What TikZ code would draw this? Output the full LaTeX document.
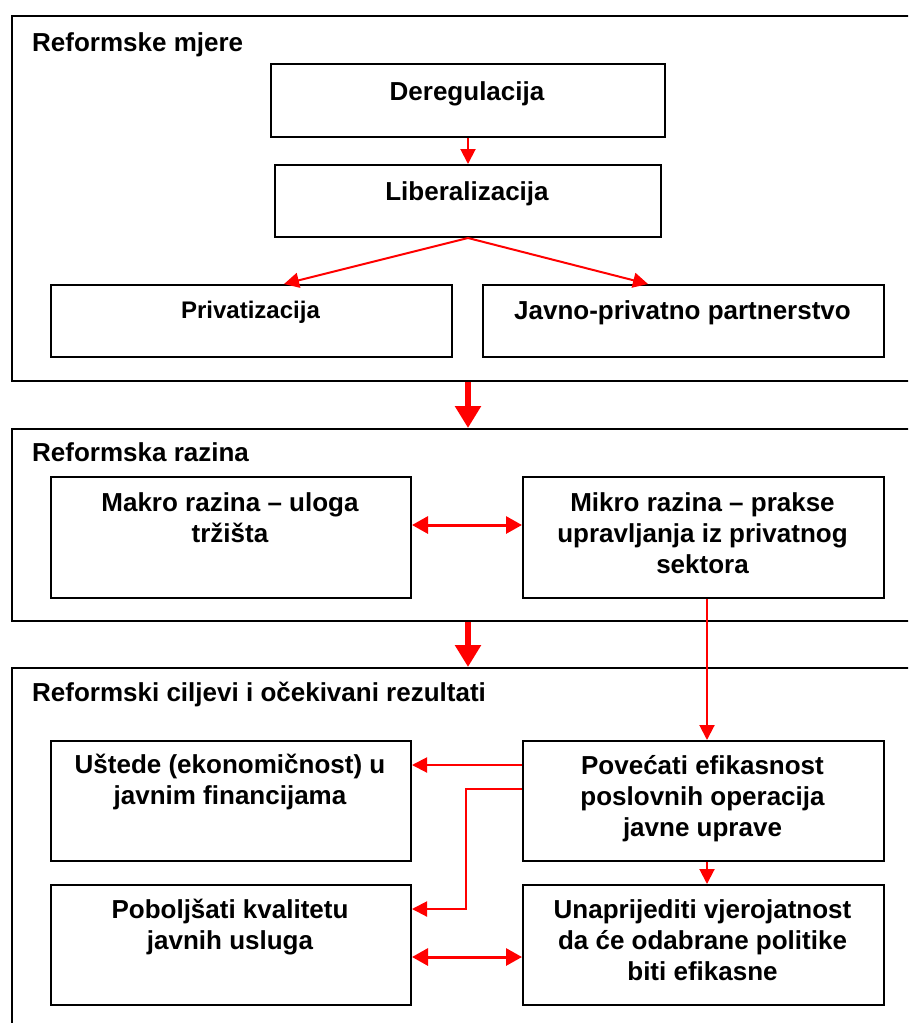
\documentclass[tikz,border=0pt]{standalone}
\usepackage{fontspec}
\setmainfont{Liberation Sans}
\usetikzlibrary{arrows.meta,calc}

\tikzset{
  frame/.style={draw=black, line width=2pt, inner sep=0pt, anchor=north west},
  box/.style={draw=black, line width=2pt, inner sep=0pt, anchor=north west},
  txt/.style={inner sep=0pt, align=center, anchor=north,
    font=\fontsize{26}{31}\selectfont\bfseries},
  smalltxt/.style={inner sep=0pt, align=center, anchor=north,
    font=\fontsize{24}{29}\selectfont\bfseries},
  heading/.style={inner sep=0pt, anchor=base west,
    font=\fontsize{26}{31}\selectfont\bfseries},
  link/.style={draw=red, line width=2pt, -{Triangle[length=15pt,width=15pt]}},
  twoway/.style={draw=red, line width=3pt,
    {Triangle[length=16pt,width=17pt]}-{Triangle[length=16pt,width=17pt]}},
  flow/.style={draw=red, line width=6pt, -{Triangle[length=22pt,width=25pt]}},
}

\begin{document}
\begin{tikzpicture}[x=1pt, y=-1pt]
\useasboundingbox (0,0) rectangle (908,1023);
\clip (0,0) rectangle (908,1023);

% outer panels (they run past the right and bottom edges)
\node[frame, minimum width=920pt, minimum height=365pt] (f1) at (11,15) {};
\node[frame, minimum width=920pt, minimum height=192pt] (f2) at (11,428) {};
\node[frame, minimum width=920pt, minimum height=380pt] (f3) at (11,667) {};

\node[heading] (h1) at (32,51.7) {Reformske mjere};
\node[heading] (h2) at (32,461.7) {Reformska razina};
\node[heading] (h3) at (32,701.7) {Reformski ciljevi i očekivani rezultati};

% Reformske mjere
\node[box, minimum width=394pt, minimum height=73pt] (der) at (270,63) {};
\node[txt] (derT) at (467,78.3) {\strut Deregulacija};
\node[box, minimum width=386pt, minimum height=72pt] (lib) at (274,164) {};
\node[txt] (libT) at (467,178.3) {\strut Liberalizacija};
\node[box, minimum width=401pt, minimum height=72pt] (pri) at (50,284) {};
\node[smalltxt] (priT) at (250.5,297.7) {\strut Privatizacija};
\node[box, minimum width=401pt, minimum height=72pt] (jpp) at (482,284) {};
\node[txt] (jppT) at (682.5,297.3) {\strut Javno-privatno partnerstvo};

\coordinate (priIn) at (284,284);
\coordinate (jppIn) at (648,284);
\draw[link] (der.south) -- (lib.north);
\draw[link] (lib.south) -- (priIn);
\draw[link] (lib.south) -- (jppIn);

% Reformska razina
\node[box, minimum width=360pt, minimum height=121pt] (mak) at (50,476) {};
\node[txt] (makT) at (230,490) {\strut Makro razina – uloga\\tržišta};
\node[box, minimum width=361pt, minimum height=121pt] (mik) at (522,476) {};
\node[txt] (mikT) at (702.5,490) {\strut Mikro razina – prakse\\upravljanja iz privatnog\\sektora};

\draw[twoway] ([yshift=12.5pt]mak.east) -- ([yshift=12.5pt]mik.west);

% Reformski ciljevi i ocekivani rezultati
\node[box, minimum width=360pt, minimum height=120pt] (ust) at (50,740) {};
\node[txt] (ustT) at (230,751.6) {\strut Uštede (ekonomičnost) u\\javnim financijama};
\node[box, minimum width=361pt, minimum height=120pt] (pov) at (522,740) {};
\node[txt] (povT) at (702.5,752.3) {\strut Povećati efikasnost\\poslovnih operacija\\javne uprave};
\node[box, minimum width=360pt, minimum height=120pt] (pob) at (50,884) {};
\node[txt] (pobT) at (230,896.6) {\strut Poboljšati kvalitetu\\javnih usluga};
\node[box, minimum width=361pt, minimum height=120pt] (una) at (522,884) {};
\node[txt] (unaT) at (702.5,896.6) {\strut Unaprijediti vjerojatnost\\da će odabrane politike\\biti efikasne};

\draw[link] ([xshift=3.5pt]mik.south) -- ([xshift=3.5pt]pov.north);
\draw[link] ([yshift=36pt]pov.west) -- ([yshift=36pt]ust.east);
\draw[link] ([yshift=12pt]pov.west) -- ++(-56,0) |- ([yshift=36pt]pob.east);
\draw[link] ([xshift=3.5pt]pov.south) -- ([xshift=3.5pt]una.north);
\draw[twoway] ([yshift=-12pt]pob.east) -- ([yshift=-12pt]una.west);

% flow between panels
\draw[flow] (f1.south -| der.south) -- (f2.north -| der.south);
\draw[flow] (f2.south -| der.south) -- (f3.north -| der.south);
\end{tikzpicture}
\end{document}
